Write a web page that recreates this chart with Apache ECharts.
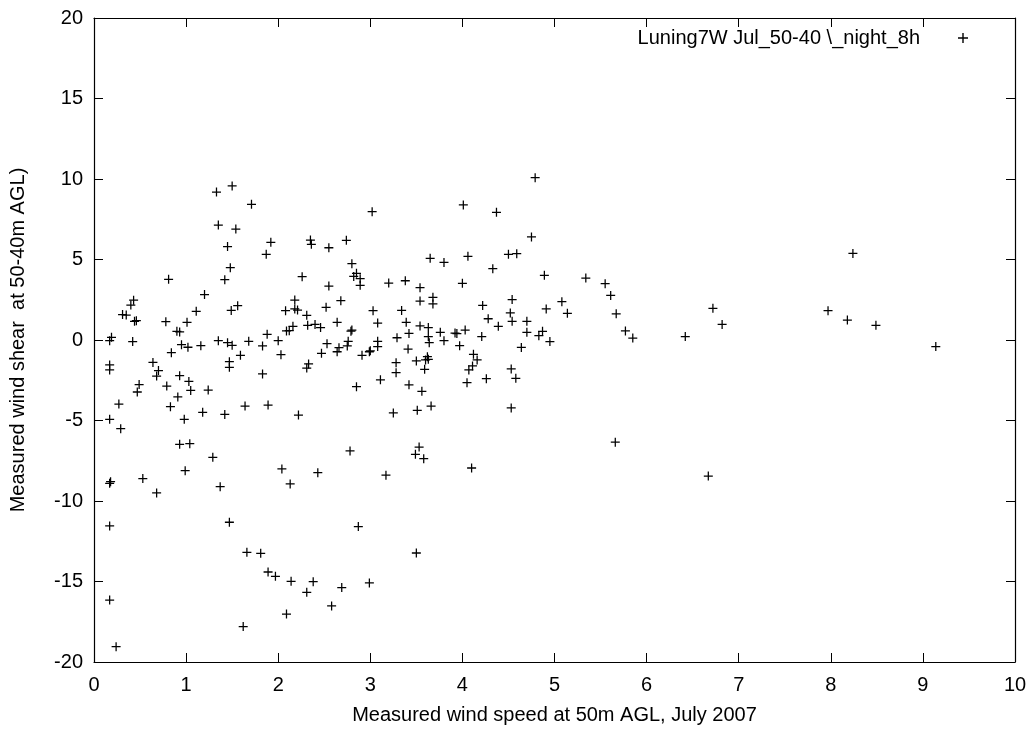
<!DOCTYPE html>
<html>
<head>
<meta charset="utf-8">
<title>Luning7W wind shear</title>
<script src="https://cdn.jsdelivr.net/npm/echarts@6/dist/echarts.min.js"></script>
<style>
  html, body { margin: 0; padding: 0; background: #fff; }
  #chart { width: 1034px; height: 731px; }
</style>
</head>
<body>
<div id="chart"></div>
<script>
// measured wind speed at 50m (x) and wind shear 50-40m (y)
var windSpeed = [
  1.33, 1.50, 1.71, 1.35, 1.54, 1.45, 1.92, 1.87, 2.35, 2.36, 2.55, 1.48, 1.42, 0.81, 2.26, 2.55,
  1.20, 0.43, 0.40, 0.31, 0.35, 0.44, 0.46, 1.11, 1.49, 1.56, 0.78, 1.01, 0.90, 0.93, 0.19, 0.17,
  0.42, 2.08, 2.18, 2.18, 2.21, 2.31, 2.52, 2.32, 2.40, 2.46, 2.16, 2.09, 2.12, 1.88, 2.00, 1.68,
  1.83, 1.35, 1.45, 1.50, 1.16, 0.95, 1.02, 0.84, 1.59, 2.03, 2.53, 2.47,
  0.17, 0.17, 0.64, 0.70, 0.68, 0.49, 0.47, 0.27, 0.17, 0.29, 0.79, 0.93, 1.03, 0.91, 1.05, 1.24,
  0.83, 0.98, 1.18, 1.42, 1.64, 1.89, 2.22, 1.47, 1.47, 1.83, 2.33, 2.31, 0.93, 1.04, 1.29, 0.99,
  0.53, 0.17, 0.18, 0.68, 1.37, 2.04, 2.13, 2.43, 0.17, 1.47,
  0.17, 0.24, 1.66, 1.81, 1.89, 1.97, 2.14, 2.38, 2.31, 2.69, 2.58, 2.09, 1.62, 2.99, 3.50,
  4.79, 3.02, 4.01, 4.37, 4.75, 2.74, 3.65, 3.80, 4.06, 4.50, 4.59, 4.33, 4.89, 2.80, 2.85, 2.82,
  2.89, 2.89, 3.20, 3.38, 3.54, 4.00, 2.68, 3.54, 3.68, 3.68, 3.03, 3.34, 4.22, 4.54, 4.52, 5.08,
  4.91, 2.64, 3.08, 3.39, 4.28, 4.39, 4.54, 4.70, 4.70, 4.87, 4.83, 4.95, 5.14, 4.64, 2.80, 2.79,
  3.54, 3.63, 3.63, 3.64, 3.76, 3.92, 3.94, 4.03, 4.21, 3.80, 3.97, 3.29, 3.42, 3.41, 3.08, 3.08,
  2.76, 2.75, 2.66, 2.64, 2.91, 2.99, 3.00, 4.12,
  3.28, 3.28, 3.50, 3.60, 3.62, 3.63, 3.59, 3.11, 2.85, 3.42, 3.56, 3.25, 3.51, 3.66, 4.16, 4.11,
  4.07, 4.05, 4.26, 4.53, 4.58, 4.53, 2.78, 3.53, 3.49, 3.58, 3.17, 4.10, 2.87,
  5.34, 5.55, 5.61, 5.67, 5.77, 5.85, 6.42, 6.72, 6.82, 5.66, 6.67,
  8.24, 7.97, 8.18, 8.49, 9.14
];
var windShear = [
  9.19, 9.57, 8.43, 7.14, 6.89, 5.80, 6.07, 5.32, 6.21, 5.94, 5.73, 4.49, 3.75, 3.77, 3.93, 3.35,
  2.82, 2.47, 2.17, 1.58, 1.55, 1.16, 1.20, 1.78, 1.84, 2.13, 1.14, 1.10, 0.54, 0.50, 0.17, -0.04,
  -0.10, 1.82, 2.48, 1.93, 1.86, 1.53, 2.03, 0.91, 0.97, 0.77, 0.85, 0.56, 0.58, 0.35, -0.04, -0.08,
  -0.37, -0.04, -0.17, -0.33, -0.35, -0.29, -0.45, -0.79, -0.95, -0.91, -0.23, -0.83,
  -1.55, -1.86, -1.39, -1.90, -2.24, -2.77, -3.23, -3.98, -4.93, -5.51, -2.86, -2.22, -2.57, -3.54, -3.13, -3.11,
  -4.14, -4.93, -4.49, -4.62, -4.10, -4.04, -4.66, -1.35, -1.70, -2.11, -1.49, -1.74, -6.48, -6.44, -7.29, -8.12,
  -8.61, -8.90, -8.80, -9.50, -9.11, -8.01, -8.94, -8.24, -11.55, -11.32,
  -16.15, -19.05, -13.19, -13.25, -14.41, -14.68, -14.99, -15.01, -15.67, -15.38, -16.52, -17.02, -17.8, -15.09, -13.23,
  10.08, 7.97, 8.39, 7.93, 6.40, 6.19, 5.07, 4.82, 5.20, 5.32, 5.36, 4.43, 4.02, 4.74, 4.14, 3.95,
  3.81, 3.40, 3.54, 3.68, 3.25, 3.52, 2.44, 2.42, 2.65, 2.24, 1.82, 1.84, 2.15, 2.51, 1.68, 2.38,
  1.93, 1.10, 1.05, 1.10, 1.32, 0.85, 1.16, 1.16, 0.48, 0.54, 0.27, -0.10, 1.66, -0.46, 0.62, 0.55,
  0.87, 0.77, 0.21, -0.17, 0.48, 0.43, 0.40, 0.62, 0.21, -0.04, -0.35, 0.14, 0.41, -0.56, -0.08, -0.41,
  -0.08, -0.37, -0.48, -0.73, -0.95, -0.73, -0.67, -0.89,
  -1.41, -2.03, -1.30, -1.24, -1.04, -1.20, -1.82, -2.47, -2.90, -2.78, -3.19, -4.53, -4.37, -4.10, -1.24, -1.61,
  -1.86, -2.65, -2.40, -1.80, -2.38, -4.22, -6.89, -6.65, -7.10, -7.37, -8.40, -7.95, -11.59,
  3.85, 3.50, 2.77, 1.63, 0.56, 0.12, 0.21, 1.97, 0.97, -6.35, -8.45,
  5.38, 1.82, 1.24, 0.91, -0.41
];
var seriesName = 'Luning7W Jul_50-40 \\_night_8h';
var xTicks = { min: 0, max: 10, interval: 1 };
var yTicks = { min: -20, max: 20, interval: 5 };

var points = [];
for (var i = 0; i < windSpeed.length; i++) {
    points.push([windSpeed[i], windShear[i]]);
}

// gnuplot style "+" marker
var plusPath = 'path://M4.3,0H5.7V4.3H10V5.7H5.7V10H4.3V5.7H0V4.3H4.3Z';
var font = 'Liberation Sans, Arial, Helvetica, sans-serif';

var myChart = echarts.init(document.getElementById('chart'), null, { renderer: 'canvas' });

var axisCommon = {
    axisLine: { show: true, onZero: false, lineStyle: { color: '#000', width: 1.2 } },
    axisTick: { show: true, inside: true, length: 9, lineStyle: { color: '#000', width: 1 } },
    splitLine: { show: false }
};

var option = {
    backgroundColor: '#fff',
    animation: false,
    textStyle: { fontFamily: font },
    grid: { left: 91, right: 19, top: 18, bottom: 69 },
    legend: {
        show: true,
        data: [seriesName],
        right: 61,
        top: 23,
        align: 'right',
        itemWidth: 76,
        itemHeight: 10,
        selectedMode: false,
        textStyle: { fontSize: 20, color: '#000', fontFamily: font }
    },
    xAxis: [
        Object.assign({
            type: 'value',
            position: 'bottom',
            min: xTicks.min, max: xTicks.max, interval: xTicks.interval,
            name: 'Measured wind speed at 50m AGL, July 2007',
            nameLocation: 'middle',
            nameGap: 43,
            nameTextStyle: { fontSize: 20, color: '#000', fontFamily: font },
            axisLabel: { margin: 13, fontSize: 20, color: '#000', fontFamily: font }
        }, axisCommon),
        Object.assign({
            type: 'value',
            position: 'top',
            min: xTicks.min, max: xTicks.max, interval: xTicks.interval,
            axisLabel: { show: false }
        }, axisCommon)
    ],
    yAxis: [
        Object.assign({
            type: 'value',
            position: 'left',
            min: yTicks.min, max: yTicks.max, interval: yTicks.interval,
            name: 'Measured wind shear  at 50-40m AGL)',
            nameLocation: 'middle',
            nameGap: 66,
            nameTextStyle: { fontSize: 20, color: '#000', fontFamily: font },
            axisLabel: { margin: 11, fontSize: 20, color: '#000', fontFamily: font }
        }, axisCommon),
        Object.assign({
            type: 'value',
            position: 'right',
            min: yTicks.min, max: yTicks.max, interval: yTicks.interval,
            axisLabel: { show: false }
        }, axisCommon)
    ],
    series: [
        {
            name: seriesName,
            type: 'scatter',
            xAxisIndex: 0,
            yAxisIndex: 0,
            symbol: plusPath,
            symbolSize: 9,
            itemStyle: { color: '#000', opacity: 1 },
            emphasis: { disabled: true },
            data: points
        }
    ]
};
myChart.setOption(option);
</script>
</body>
</html>
